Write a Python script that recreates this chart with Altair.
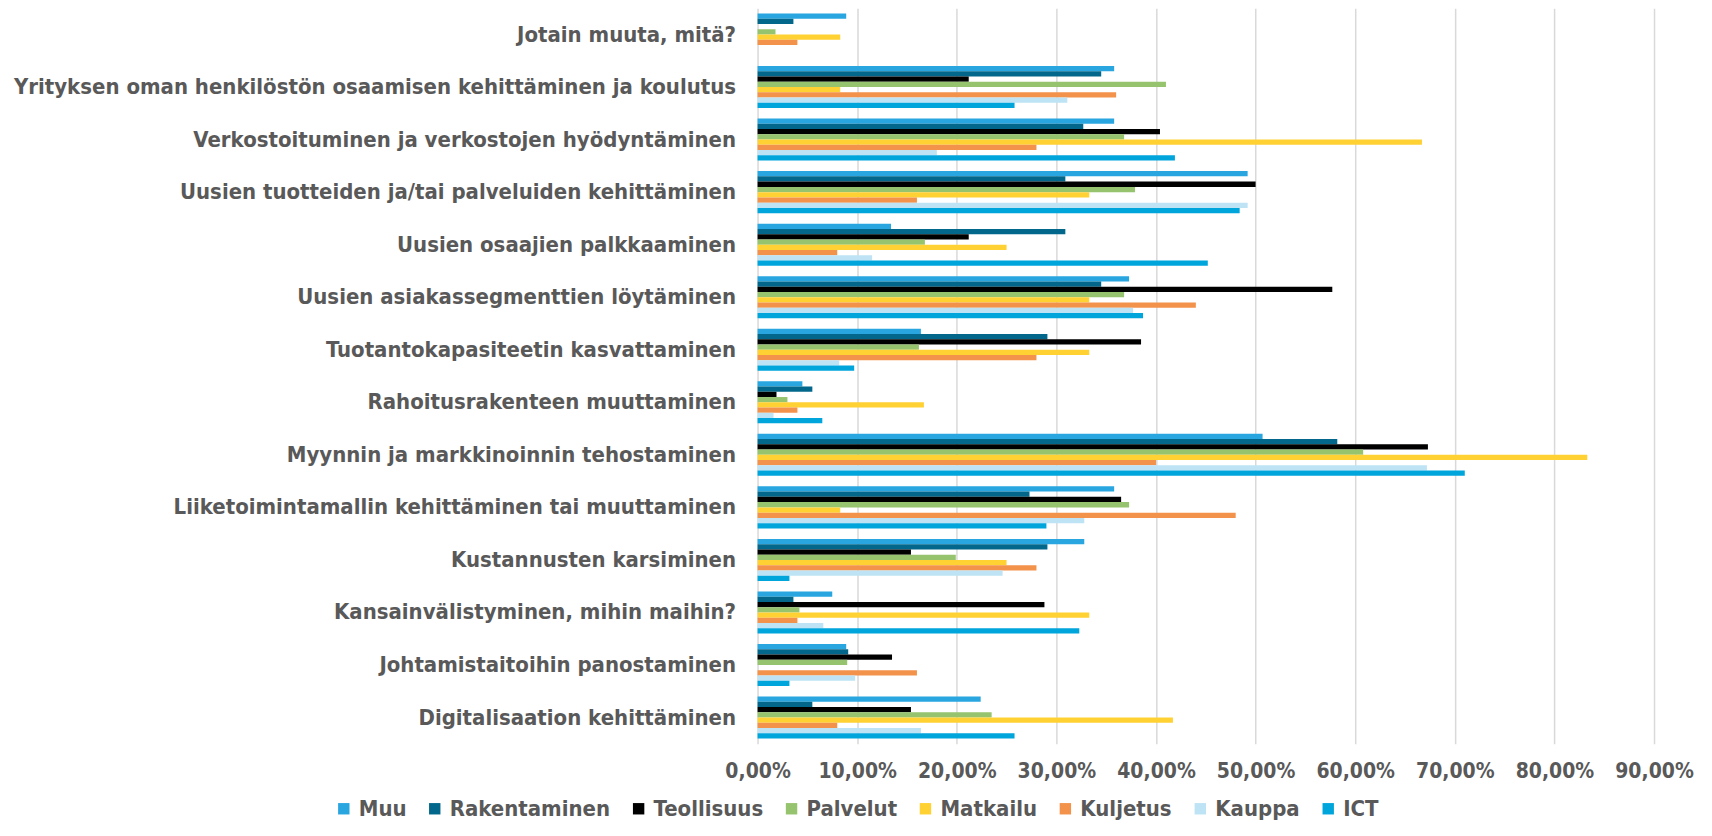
import altair as alt
import pandas as pd

categories = [
    "Jotain muuta, mitä?",
    "Yrityksen oman henkilöstön osaamisen kehittäminen ja koulutus",
    "Verkostoituminen ja verkostojen hyödyntäminen",
    "Uusien tuotteiden ja/tai palveluiden kehittäminen",
    "Uusien osaajien palkkaaminen",
    "Uusien asiakassegmenttien löytäminen",
    "Tuotantokapasiteetin kasvattaminen",
    "Rahoitusrakenteen muuttaminen",
    "Myynnin ja markkinoinnin tehostaminen",
    "Liiketoimintamallin kehittäminen tai muuttaminen",
    "Kustannusten karsiminen",
    "Kansainvälistyminen, mihin maihin?",
    "Johtamistaitoihin panostaminen",
    "Digitalisaation kehittäminen",
]

series = ["Muu", "Rakentaminen", "Teollisuus", "Palvelut", "Matkailu", "Kuljetus", "Kauppa", "ICT"]
colors = ["#29A6E0", "#02678A", "#000000", "#96C36D", "#FFD133", "#F3924A", "#BDE3F5", "#00A5DC"]

muu = [8.9, 35.8, 35.8, 49.2, 13.4, 37.3, 16.4, 4.5, 50.7, 35.8, 32.8, 7.5, 8.9, 22.4]
rakentaminen = [3.6, 34.5, 32.7, 30.9, 30.9, 34.5, 29.1, 5.5, 58.2, 27.3, 29.1, 3.6, 9.1, 5.5]
teollisuus = [0, 21.2, 40.4, 50.0, 21.2, 57.7, 38.5, 1.9, 67.3, 36.5, 15.4, 28.8, 13.5, 15.4]
palvelut = [1.8, 41.0, 36.8, 37.9, 16.8, 36.8, 16.2, 3.0, 60.8, 37.3, 19.9, 4.2, 9.0, 23.5]
matkailu = [8.3, 8.3, 66.7, 33.3, 25.0, 33.3, 33.3, 16.7, 83.3, 8.3, 25.0, 33.3, 0, 41.7]
kuljetus = [4.0, 36.0, 28.0, 16.0, 8.0, 44.0, 28.0, 4.0, 40.0, 48.0, 28.0, 4.0, 16.0, 8.0]
kauppa = [0, 31.1, 18.0, 49.2, 11.5, 37.7, 8.2, 1.6, 67.2, 32.8, 24.6, 6.6, 9.8, 16.4]
ict = [0, 25.8, 41.9, 48.4, 45.2, 38.7, 9.7, 6.5, 71.0, 29.0, 3.2, 32.3, 3.2, 25.8]

values = [muu, rakentaminen, teollisuus, palvelut, matkailu, kuljetus, kauppa, ict]

rows = []
for s, vals in zip(series, values):
    for c, v in zip(categories, vals):
        rows.append({"kategoria": c, "sarja": s, "arvo": v / 100.0})
df = pd.DataFrame(rows)

FONT = "DejaVu Sans Condensed"
GREY = "#595959"

chart = alt.Chart(df).mark_bar().encode(
    y=alt.Y(
        "kategoria:N",
        sort=categories,
        title=None,
        scale=alt.Scale(paddingInner=0.2, paddingOuter=0.1),
        axis=alt.Axis(
            labelFont=FONT, labelFontSize=22, labelFontWeight="bold", labelColor=GREY,
            ticks=False, domain=False, labelPadding=22, labelLimit=800,
            minExtent=750, maxExtent=750,
        ),
    ),
    yOffset=alt.YOffset("sarja:N", sort=series),
    x=alt.X(
        "arvo:Q",
        title=None,
        scale=alt.Scale(domain=[0, 0.9], nice=False),
        axis=alt.Axis(
            values=[0, 0.1, 0.2, 0.3, 0.4, 0.5, 0.6, 0.7, 0.8, 0.9],
            labelExpr="replace(format(datum.value, '.2%'), '.', ',')",
            labelFont=FONT, labelFontSize=21, labelFontWeight="bold", labelColor=GREY,
            ticks=False, domain=False, labelPadding=17, labelOverlap=False,
            labelFlush=False,
            grid=True, gridColor="#D9D9D9", gridWidth=1.5,
        ),
    ),
    color=alt.Color(
        "sarja:N",
        sort=series,
        scale=alt.Scale(domain=series, range=colors),
        legend=alt.Legend(
            title=None, orient="none", direction="horizontal",
            legendX=-425, legendY=790,
            labelFont=FONT, labelFontSize=22, labelFontWeight="bold", labelColor=GREY,
            labelLimit=400,
            symbolType="square", symbolSize=130, symbolStrokeWidth=0,
            columnPadding=17, labelOffset=4,
        ),
    ),
).properties(
    width=897,
    height=736,
    padding={"left": 0, "top": 0, "right": 10, "bottom": 5},
).configure_view(stroke=None)

chart.save("out.html", embed_options={"renderer": "svg", "actions": False})
